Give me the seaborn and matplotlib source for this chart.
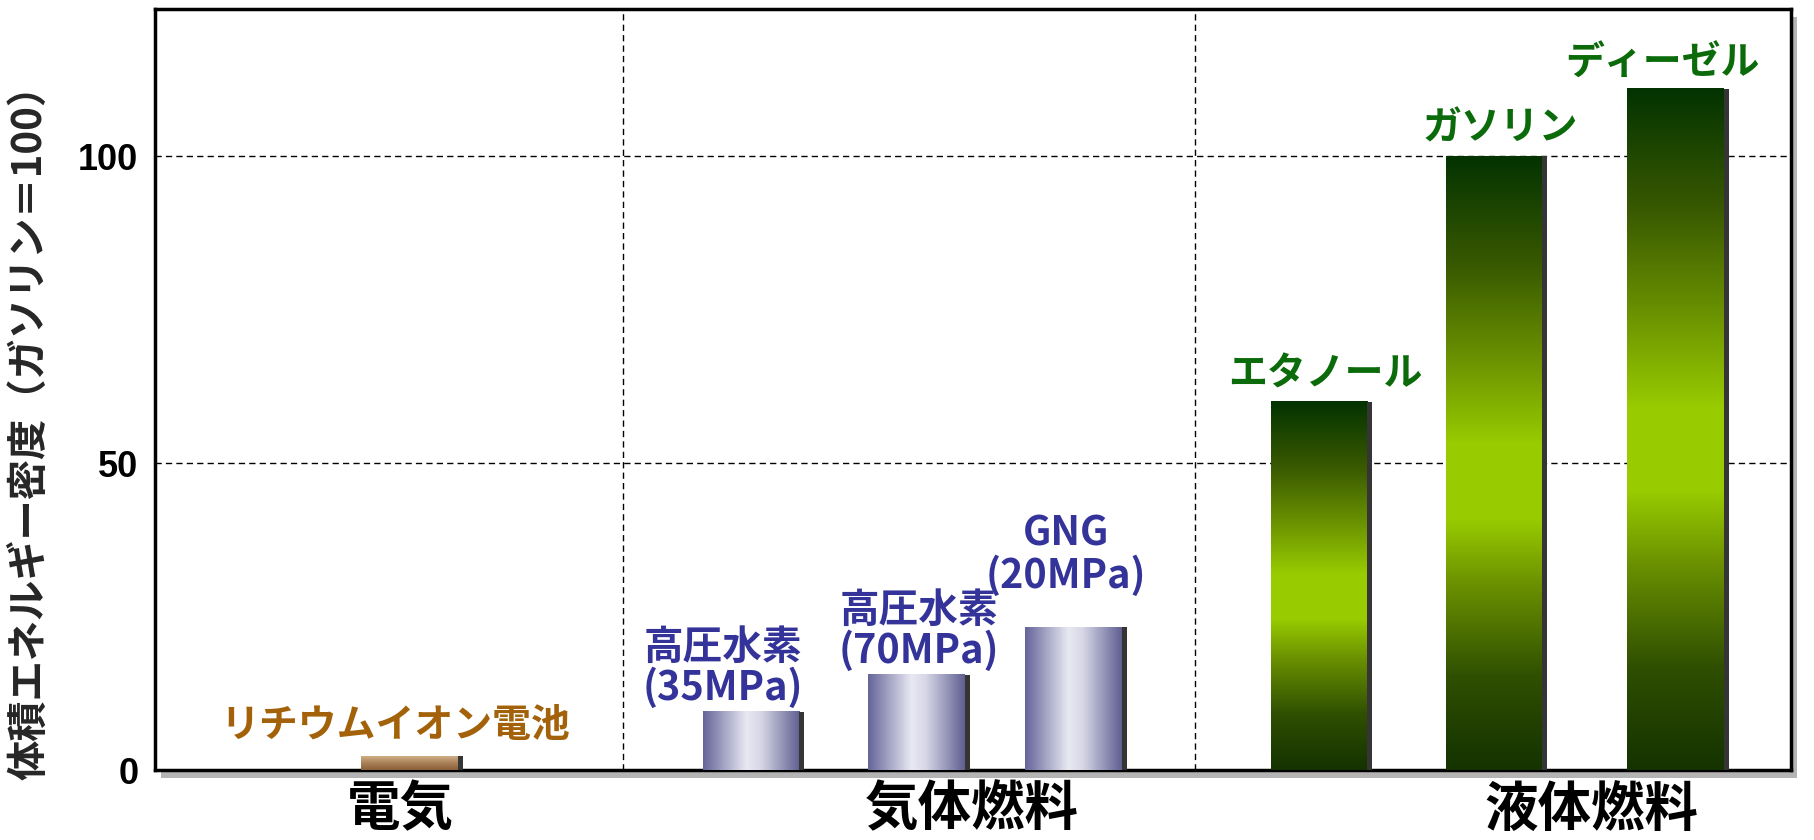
import numpy as np
import pandas as pd
import matplotlib
matplotlib.use("Agg")
import matplotlib.pyplot as plt
import seaborn as sns
from matplotlib.colors import LinearSegmentedColormap
from matplotlib.patches import Rectangle

# ---------------- data ----------------
items = ["リチウムイオン電池", "高圧水素\n(35MPa)", "高圧水素\n(70MPa)", "GNG\n(20MPa)",
         "エタノール", "ガソリン", "ディーゼル"]
groups = ["電気", "気体燃料", "気体燃料", "気体燃料", "液体燃料", "液体燃料", "液体燃料"]
values = [2.2, 9.5, 15.5, 23.3, 60, 100, 111]
group_names = ["電気", "気体燃料", "液体燃料"]
yticks = [0, 50, 100]
ylabel = "体積エネルギー密度（ガソリン＝100）"

# ---------------- layout (not data) ----------------
bar_slots = [1.57, 3.66, 4.67, 5.63, 7.13, 8.20, 9.31]
group_label_slots = [1.50, 4.99, 8.78]
separators = [2.86, 6.36]
bar_w = 0.62
label_offsets = [(-12, 8), (-22, 2), (0, 2), (-7, 22), (3, 6), (3, 6), (-11, 4)]

sns.set_theme(style="white")
plt.rcParams["font.family"] = ["Noto Sans CJK JP", "DejaVu Sans"]
plt.rcParams["font.weight"] = "bold"

fig = plt.figure(figsize=(18.14, 8.4), dpi=100)
L, B, R, T = 155 / 1814, 1 - 770 / 840, 1791 / 1814, 1 - 9 / 840
ax = fig.add_axes([L, B, R - L, T - B])

df = pd.DataFrame({"slot": bar_slots, "value": values, "item": items, "group": groups})
width_param = bar_w / np.min(np.diff(bar_slots))
sns.barplot(data=df, x="slot", y="value", native_scale=True, width=width_param,
            color="white", errorbar=None, ax=ax, zorder=3, linewidth=0)

cmap_elec = LinearSegmentedColormap.from_list("e", [(0, "#8a5f38"), (0.5, "#a98058"), (1, "#cfae86")])
cmap_gas = LinearSegmentedColormap.from_list("g", [(0, "#64649a"), (0.45, "#e9e9f3"),
                                                   (0.6, "#d6d6e6"), (1, "#5f5f92")])
cmap_liq = LinearSegmentedColormap.from_list("l", [(0, "#143300"), (0.15, "#2f4f00"),
                                                   (0.3, "#6a9000"), (0.41, "#99cc00"),
                                                   (0.53, "#99cc00"), (0.66, "#6e9600"),
                                                   (0.82, "#3a5a00"), (1, "#033300")])
styles = {"電気": (cmap_elec, "v", "#a3620a"),
          "気体燃料": (cmap_gas, "h", "#333399"),
          "液体燃料": (cmap_liq, "v", "#0b6b0b")}

patches = sorted(ax.patches, key=lambda p: p.get_x())
px_to_data = 10.0 / (1791 - 155)
strip = 5 * px_to_data
for p, g, txt, v, off in zip(patches, groups, items, values, label_offsets):
    cmap, d, tcol = styles[g]
    x0, y0, w, h = p.get_x(), p.get_y(), p.get_width(), p.get_height()
    p.set_facecolor("none")
    arr = np.linspace(0, 1, 256).reshape(1, -1) if d == "h" else np.linspace(0, 1, 256).reshape(-1, 1)
    ax.imshow(arr, cmap=cmap, extent=[x0, x0 + w - strip, y0, y0 + h], origin="lower",
              aspect="auto", zorder=3, interpolation="bilinear")
    ax.add_patch(Rectangle((x0 + w - strip, y0), strip, h, color="#353535", zorder=3.5, lw=0))
    ax.annotate(txt, xy=(x0 + w / 2, y0 + h), xytext=off, textcoords="offset points",
                ha="center", va="bottom", color=tcol, fontsize=28 if g != "気体燃料" else 28.5,
                fontweight="bold", linespacing=1.0, zorder=5)

for yv in yticks[1:]:
    ax.axhline(yv, color="black", lw=1.0, ls=(0, (4.5, 3)), zorder=1)
for xs in separators:
    ax.axvline(xs, color="black", lw=1.0, ls=(0, (4.5, 3)), zorder=1)

ax.set_xlim(0, 10)
ax.set_ylim(0, 124)
ax.set_yticks(yticks)
ax.set_yticklabels([str(t) for t in yticks], fontsize=26, fontweight="bold",
                   family=["Liberation Sans", "DejaVu Sans"])
ax.set_xticks(group_label_slots)
ax.set_xticklabels(group_names, fontsize=38.5, fontweight="bold")
ax.tick_params(axis="both", length=0, colors="black")
ax.tick_params(axis="y", pad=12)
ax.tick_params(axis="x", pad=9)
ax.set_xlabel("")
ax.set_ylabel(ylabel, fontsize=29, fontweight="bold")
ax.yaxis.set_label_coords(-0.064, 0.457)
for s in ax.spines.values():
    s.set_visible(True)
    s.set_color("black")
    s.set_linewidth(2.5)
ax.set_facecolor("white")

# frame shadow
shadow = Rectangle((L + 6 / 1814, B - 8 / 840), R - L, T - B, transform=fig.transFigure,
                   facecolor="#b4b4b4", edgecolor="none", zorder=-1)
fig.add_artist(shadow)

fig.savefig("out.png", dpi=100, facecolor="white")
